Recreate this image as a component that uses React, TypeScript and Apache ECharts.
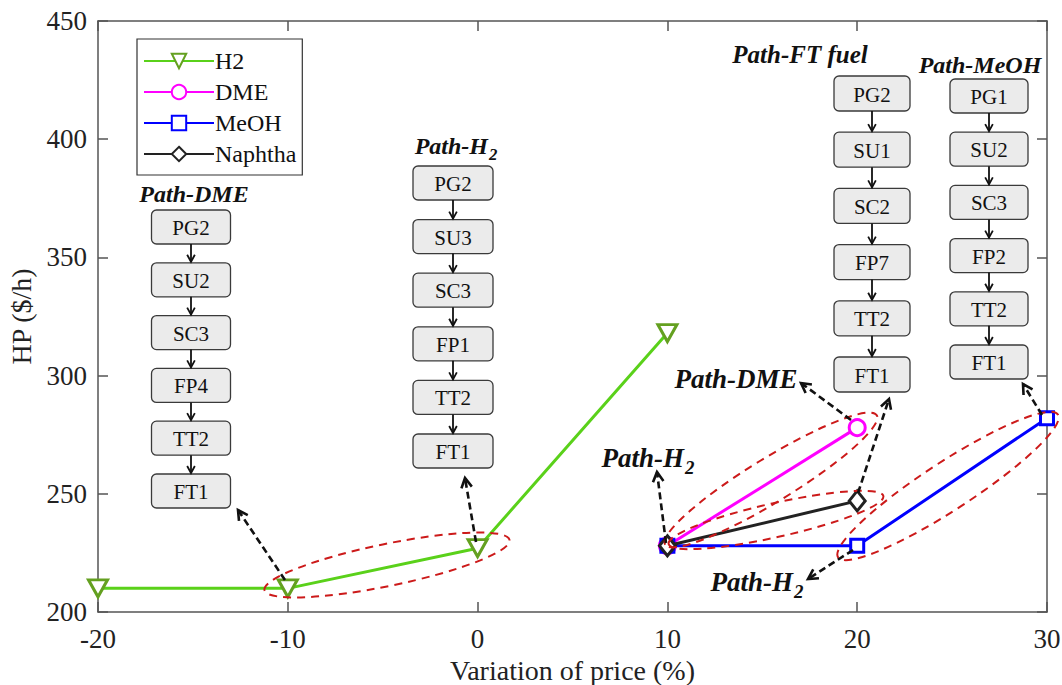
import React, { useEffect, useRef } from "react";
import * as echarts from "echarts";

// ---- data ----
const h2X = [-20, -10, 0, 10];
const h2Y = [210, 210, 227, 318];
const dmeX = [10, 20];
const dmeY = [228, 278];
const meohX = [10, 20, 30];
const meohY = [228, 228, 282];
const naphX = [10, 20];
const naphY = [228, 247];
const seriesNames = ["H2", "DME", "MeOH", "Naphtha"];
const xTicks = { min: -20, max: 30, step: 10 };
const yTicks = { min: 200, max: 450, step: 50 };
const xLabel = "Variation of price (%)";
const yLabel = "HP ($/h)";

const pathDME = ["PG2", "SU2", "SC3", "FP4", "TT2", "FT1"];
const pathH2 = ["PG2", "SU3", "SC3", "FP1", "TT2", "FT1"];
const pathFT = ["PG2", "SU1", "SC2", "FP7", "TT2", "FT1"];
const pathMeOH = ["PG1", "SU2", "SC3", "FP2", "TT2", "FT1"];

const pts = (xs: number[], ys: number[]) => xs.map((x, i) => [x, ys[i]]);

const SERIF = "Liberation Serif";

function arrowHead(x1: number, y1: number, x2: number, y2: number, len: number, lw: number) {
  const a = Math.atan2(y2 - y1, x2 - x1);
  const sp = 0.5;
  return {
    type: "polyline",
    z: 20,
    shape: {
      points: [
        [x2 - len * Math.cos(a - sp), y2 - len * Math.sin(a - sp)],
        [x2, y2],
        [x2 - len * Math.cos(a + sp), y2 - len * Math.sin(a + sp)],
      ],
    },
    style: { stroke: "#111", lineWidth: lw, fill: null },
  };
}

function flow(labels: string[], cx: number, top: number, step: number, w: number, h: number) {
  const els: any[] = [];
  labels.forEach((lab, i) => {
    const y = top + i * step;
    els.push({
      type: "rect",
      z: 15,
      shape: { x: cx - w / 2, y, width: w, height: h, r: 5 },
      style: { fill: "#ebebeb", stroke: "#3a3a3a", lineWidth: 1.3 },
    });
    els.push({
      type: "text",
      z: 16,
      x: cx,
      y: y + h / 2 + 1,
      style: { text: lab, fontSize: 21, fontFamily: SERIF, fill: "#111", align: "center", verticalAlign: "middle" },
    });
    if (i < labels.length - 1) {
      const y1 = y + h;
      const y2 = top + (i + 1) * step;
      els.push({
        type: "line",
        z: 16,
        shape: { x1: cx, y1, x2: cx, y2: y2 - 1 },
        style: { stroke: "#111", lineWidth: 1.8 },
      });
      els.push(arrowHead(cx, y1, cx, y2 - 1, 8, 1.8));
    }
  });
  return els;
}

function title(text: string, x: number, y: number, size: number, align: string, sub?: boolean) {
  const els: any[] = [
    {
      type: "text",
      z: 16,
      x,
      y,
      style: {
        text,
        fontSize: size,
        fontWeight: "bold",
        fontStyle: "italic",
        fontFamily: SERIF,
        fill: "#111",
        align,
        verticalAlign: "middle",
      },
    },
  ];
  if (sub) {
    els.push({
      type: "text",
      z: 16,
      x: x + 1,
      y: y + size * 0.35,
      style: {
        text: "2",
        fontSize: size * 0.7,
        fontWeight: "bold",
        fontStyle: "italic",
        fontFamily: SERIF,
        fill: "#111",
        align: "left",
        verticalAlign: "middle",
      },
    });
  }
  return els;
}

function dashedArrow(x1: number, y1: number, x2: number, y2: number) {
  return [
    {
      type: "line",
      z: 20,
      shape: { x1, y1, x2, y2 },
      style: { stroke: "#111", lineWidth: 2.6, lineDash: [7, 4] },
    },
    arrowHead(x1, y1, x2, y2, 11, 2.6),
  ];
}

function ell(cx: number, cy: number, rx: number, ry: number, deg: number) {
  return {
    type: "group",
    x: cx,
    y: cy,
    rotation: (deg * Math.PI) / 180,
    z: 18,
    children: [
      {
        type: "ellipse",
        z: 18,
        shape: { cx: 0, cy: 0, rx, ry },
        style: { fill: null, stroke: "#cc1a1a", lineWidth: 2, lineDash: [8, 6] },
      },
    ],
  };
}

export default function App() {
  const ref = useRef<HTMLDivElement>(null);
  useEffect(() => {
    if (!ref.current) return;
    const chart = echarts.init(ref.current, undefined, { renderer: "svg" });

    const axisLine = { show: true, onZero: false, lineStyle: { color: "#555", width: 1.5 } };
    const tick = { show: true, inside: true, length: 10, lineStyle: { color: "#555", width: 1.5 } };
    const lab = { color: "#222", fontSize: 27, fontFamily: SERIF };

    const graphics: any[] = [
      ...flow(pathDME, 191, 210, 52.8, 79, 34),
      ...flow(pathH2, 453, 166, 53.6, 80, 34),
      ...flow(pathFT, 872, 76, 56.2, 76, 35),
      ...flow(pathMeOH, 989, 79, 53.2, 78, 34),
      ...title("Path-DME", 194, 194, 24, "center"),
      ...title("Path-H", 488, 146, 24, "right", true),
      ...title("Path-FT fuel", 800, 54, 25, "center"),
      ...title("Path-MeOH", 980, 65, 24, "center"),
      ...title("Path-DME", 736, 379, 27, "center"),
      ...title("Path-H", 684, 458, 27, "right", true),
      ...title("Path-H", 793, 582, 27, "right", true),
      ell(387, 565, 125, 21, 11.6),
      ell(771, 480, 124, 22, 31.5),
      ell(776, 520, 110, 17, 12.6),
      ell(948, 486, 131, 24, 33),
      ...dashedArrow(285, 580, 238, 510),
      ...dashedArrow(476, 542, 465, 478),
      ...dashedArrow(666, 543, 657, 472),
      ...dashedArrow(851, 420, 801, 383),
      ...dashedArrow(858, 493, 889, 399),
      ...dashedArrow(853, 550, 808, 579),
      ...dashedArrow(1042, 415, 1023, 384),
    ];

    chart.setOption({
      animation: false,
      backgroundColor: "#fff",
      grid: { left: 98, top: 21, width: 949, height: 591, containLabel: false, outerBoundsMode: "none" },
      legend: {
        orient: "vertical",
        left: 137,
        top: 39,
        padding: [10, 6, 9, 6],
        itemWidth: 70,
        itemHeight: 18,
        itemGap: 7,
        borderColor: "#333",
        borderWidth: 1.2,
        backgroundColor: "#fff",
        data: seriesNames,
        textStyle: { fontSize: 24, fontFamily: SERIF, color: "#111", lineHeight: 24, padding: [0, 0, 0, -4] },
      },
      xAxis: [
        {
          type: "value",
          min: xTicks.min,
          max: xTicks.max,
          interval: xTicks.step,
          name: xLabel,
          nameLocation: "middle",
          nameGap: 39,
          nameTextStyle: { fontSize: 28, fontFamily: SERIF, color: "#222" },
          axisLine,
          axisTick: tick,
          axisLabel: { ...lab, margin: 13 },
          splitLine: { show: false },
        },
        {
          type: "value",
          position: "top",
          min: xTicks.min,
          max: xTicks.max,
          interval: xTicks.step,
          axisLine,
          axisTick: tick,
          axisLabel: { show: false },
          splitLine: { show: false },
        },
      ],
      yAxis: [
        {
          type: "value",
          min: yTicks.min,
          max: yTicks.max,
          interval: yTicks.step,
          name: yLabel,
          nameLocation: "middle",
          nameGap: 60,
          nameRotate: 90,
          nameTextStyle: { fontSize: 28, fontFamily: SERIF, color: "#222" },
          axisLine,
          axisTick: tick,
          axisLabel: { ...lab, margin: 11 },
          splitLine: { show: false },
        },
        {
          type: "value",
          position: "right",
          min: yTicks.min,
          max: yTicks.max,
          interval: yTicks.step,
          axisLine,
          axisTick: tick,
          axisLabel: { show: false },
          splitLine: { show: false },
        },
      ],
      series: [
        {
          name: seriesNames[0],
          type: "line",
          data: pts(h2X, h2Y),
          symbol: "triangle",
          symbolRotate: 180,
          symbolSize: [19, 17],
          showAllSymbol: true,
          lineStyle: { color: "#5ad11a", width: 3 },
          itemStyle: { color: "#fff", borderColor: "#64a020", borderWidth: 3 },
          z: 3,
        },
        {
          name: seriesNames[1],
          type: "line",
          data: pts(dmeX, dmeY),
          symbol: "circle",
          symbolSize: 16,
          lineStyle: { color: "#ff00ff", width: 3 },
          itemStyle: { color: "#fff", borderColor: "#ff00ff", borderWidth: 3 },
          z: 4,
        },
        {
          name: seriesNames[2],
          type: "line",
          data: pts(meohX, meohY),
          symbol: "rect",
          symbolSize: 13,
          lineStyle: { color: "#0000ff", width: 3 },
          itemStyle: { color: "#fff", borderColor: "#0000ff", borderWidth: 3 },
          z: 5,
        },
        {
          name: seriesNames[3],
          type: "line",
          data: pts(naphX, naphY),
          symbol: "diamond",
          symbolSize: [16, 20],
          lineStyle: { color: "#222", width: 3 },
          itemStyle: { color: "#fff", borderColor: "#222", borderWidth: 3 },
          z: 6,
        },
      ],
      graphic: graphics,
    });
    return () => chart.dispose();
  }, []);
  return (
    <div
      ref={ref}
      style={{ position: "fixed", left: 0, top: 0, width: 1062, height: 685, background: "#fff" }}
    />
  );
}
